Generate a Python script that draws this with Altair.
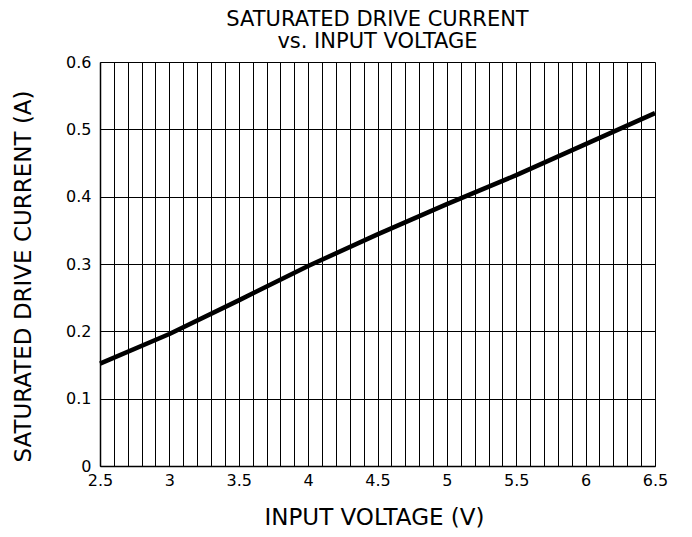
import altair as alt
import pandas as pd

# Data
voltage = [2.5, 3.0, 3.5, 4.0, 4.5, 5.0, 5.5, 6.0, 6.5]
current = [0.152, 0.196, 0.246, 0.297, 0.344, 0.389, 0.432, 0.478, 0.524]

x_grid = [round(2.5 + 0.1 * i, 1) for i in range(41)]
y_ticks = [0, 0.1, 0.2, 0.3, 0.4, 0.5, 0.6]

df = pd.DataFrame({"v": voltage, "i": current})

FONT = "DejaVu Sans"

chart = (
    alt.Chart(df)
    .mark_line(color="black", strokeWidth=4.5, strokeCap="butt", strokeJoin="round")
    .encode(
        x=alt.X(
            "v:Q",
            scale=alt.Scale(domain=[2.5, 6.5], nice=False, zero=False),
            axis=alt.Axis(
                values=x_grid,
                labelExpr="round(datum.value*10)%5==0 ? toString(round(datum.value*10)/10) : ''",
                ticks=False,
                grid=True,
                gridColor="black",
                gridWidth=1,
                gridOpacity=1,
                domainColor="black",
                domainWidth=1.5,
                labelFont=FONT,
                labelFontSize=16,
                labelColor="black",
                labelPadding=6,
                labelFlush=False,
                labelOverlap=False,
                title="INPUT VOLTAGE (V)",
                titleFont=FONT,
                titleFontSize=23,
                titleFontWeight="normal",
                titleColor="black",
                titleX=274,
                titleY=51,
                titleBaseline="middle",
                titleAlign="center",
            ),
        ),
        y=alt.Y(
            "i:Q",
            scale=alt.Scale(domain=[0, 0.6], nice=False),
            axis=alt.Axis(
                values=y_ticks,
                labelExpr="toString(datum.value)",
                ticks=False,
                grid=True,
                gridColor="black",
                gridWidth=1,
                gridOpacity=1,
                domainColor="black",
                domainWidth=1.5,
                labelFont=FONT,
                labelFontSize=16,
                labelColor="black",
                labelPadding=9,
                labelOverlap=False,
                title="SATURATED DRIVE CURRENT (A)",
                titleFont=FONT,
                titleFontSize=23,
                titleFontWeight="normal",
                titleColor="black",
                titleAngle=-90,
                titleX=-77,
                titleY=214,
                titleBaseline="middle",
                titleAlign="center",
            ),
        ),
    )
    .properties(
        width=555,
        height=404,
        padding={"left": 92, "top": 54, "right": 29, "bottom": 63},
        autosize=alt.AutoSizeParams(type="none"),
        title=alt.TitleParams(
            text=["SATURATED DRIVE CURRENT", "vs. INPUT VOLTAGE"],
            font=FONT,
            fontSize=21,
            fontWeight="normal",
            color="black",
            anchor="middle",
            lineHeight=22,
            offset=2,
        ),
    )
    .configure_view(stroke="black", strokeWidth=1.5)
    .configure(background="white")
)

chart.save("out.html", embed_options={"renderer": "svg", "actions": False})
